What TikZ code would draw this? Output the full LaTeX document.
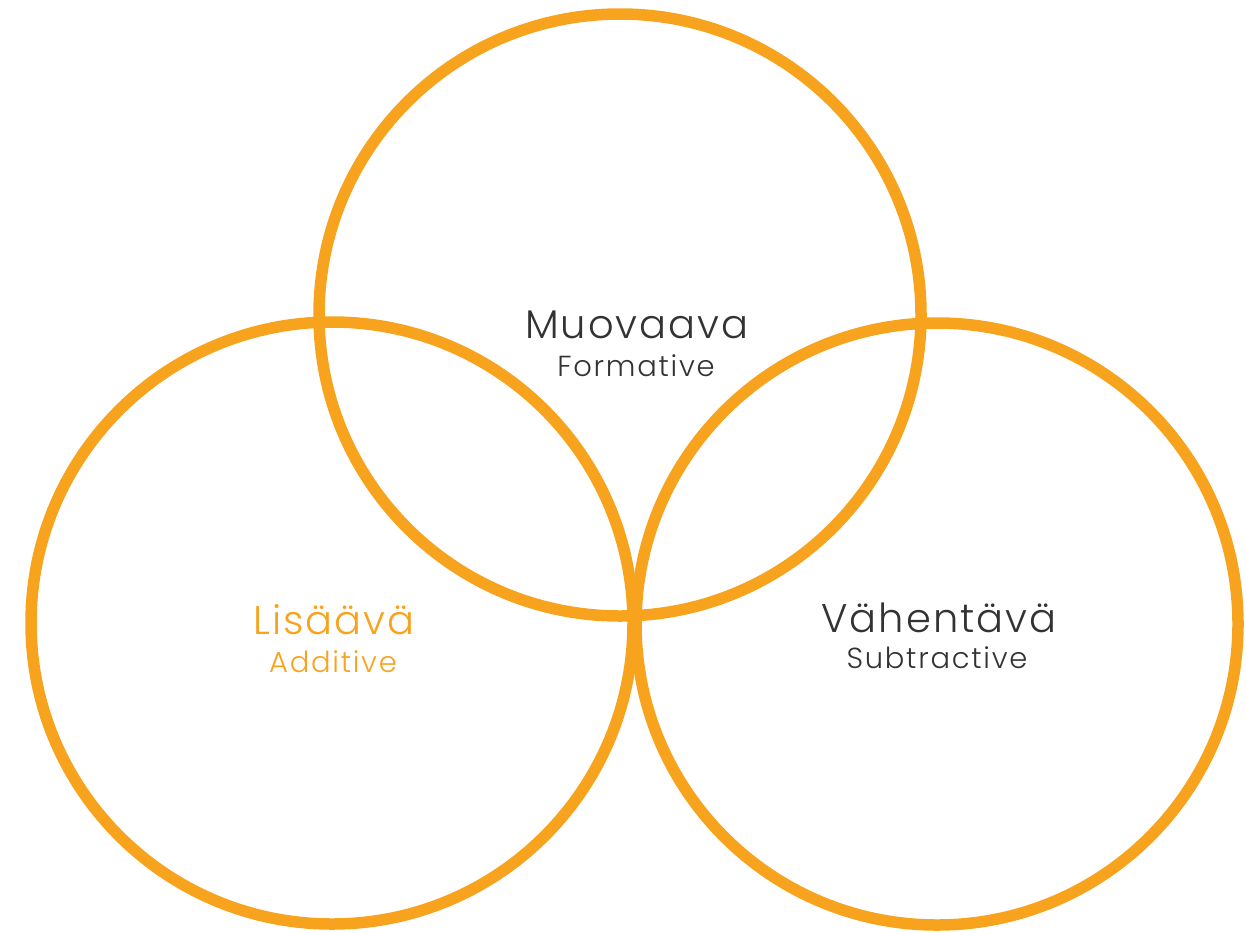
\documentclass[tikz,border=0pt]{standalone}
\usepackage{fontspec}
\setmainfont{Poppins}[UprightFont=* Light]
\newfontfamily\titlefont{Poppins}[UprightFont=* Light, LetterSpace=5]
\newfontfamily\subfont{Poppins}[UprightFont=* Light, LetterSpace=6]
\definecolor{ring}{HTML}{F8A31E}
\definecolor{ink}{HTML}{333333}
\begin{document}
\begin{tikzpicture}[x=1pt,y=-1pt,
  ringstyle/.style={draw=ring, line width=11.5pt},
  titletext/.style={anchor=base, inner sep=0pt, font=\titlefont\fontsize{40}{40}\selectfont},
  subtext/.style={anchor=base, inner sep=0pt, font=\subfont\fontsize{29}{29}\selectfont}]
  \useasboundingbox (0,0) rectangle (1246,932);
  % three overlapping rings
  \draw[ringstyle] (620,315) circle[radius=301];
  \draw[ringstyle] (332,623) circle[radius=301];
  \draw[ringstyle] (937,624) circle[radius=301];
  % labels
  \node[titletext, text=ink] (muo) at (637,338) {Muovaava};
  \node[subtext, text=ink] (form) at (636,376) {Formative};
  \node[titletext, text=ring] (lis) at (334,634) {Lisäävä};
  \node[subtext, text=ring] (add) at (333,672) {Additive};
  \node[titletext, text=ink] (vah) at (939,632) {Vähentävä};
  \node[subtext, text=ink] (sub) at (937,668) {Subtractive};
\end{tikzpicture}
\end{document}
